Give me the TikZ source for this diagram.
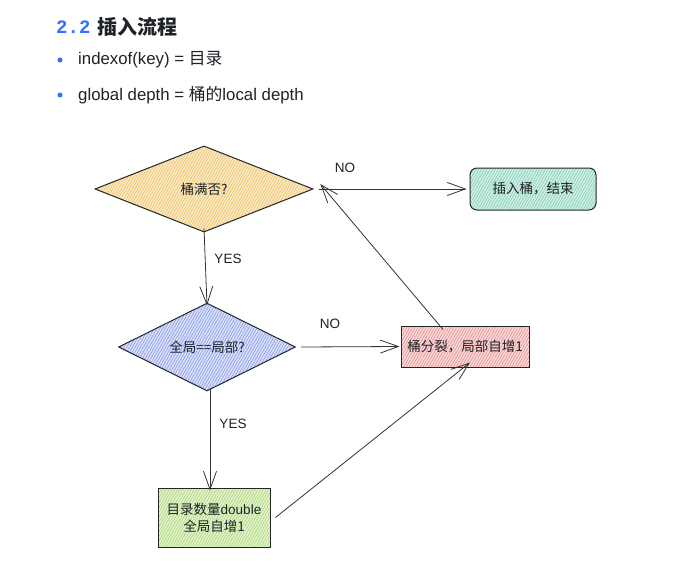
\documentclass[tikz,border=0pt]{standalone}
\usepackage{fontspec}
\setmainfont{Liberation Sans}
\newfontfamily\cjk{Noto Sans CJK SC}
\usetikzlibrary{shapes.geometric,arrows.meta,patterns.meta}
\definecolor{hblue}{HTML}{3370FF}
\definecolor{ylfill}{HTML}{FBEBC8}\definecolor{ylhatch}{HTML}{EDBE5C}
\definecolor{tlfill}{HTML}{D2F0E6}\definecolor{tlhatch}{HTML}{7CCDB4}
\definecolor{blfill}{HTML}{DCE2FA}\definecolor{blhatch}{HTML}{8494EC}
\definecolor{rdfill}{HTML}{FADADA}\definecolor{rdhatch}{HTML}{E48C8C}
\definecolor{grfill}{HTML}{E4F3CF}\definecolor{grhatch}{HTML}{A6D670}
\definecolor{txt}{HTML}{1F2329}
\tikzset{
  hatched/.style 2 args={preaction={fill=#1},pattern={Lines[angle=60,distance=2.4pt,line width=0.6pt]},pattern color=#2},
  shapebase/.style={draw=black!85,line width=1pt,inner sep=0pt,font=\cjk\fontsize{13.5}{16}\selectfont,text=txt,align=center},
  dia/.style={shapebase,diamond},
  boxn/.style={shapebase,rectangle},
  arr/.style={draw=black!80,line width=0.8pt,-{Straight Barb[length=18pt,width=13pt,line width=0.8pt]}},
  lab/.style={font=\fontsize{13.5}{15}\selectfont,text=txt,inner sep=0pt},
  bul/.style={fill=hblue,circle,inner sep=0pt,minimum size=5pt},
  btxt/.style={anchor=west,font=\fontsize{16.8}{20}\selectfont,text=txt,inner sep=0pt}
}
\begin{document}
\begin{tikzpicture}[x=1pt,y=-1pt]
\useasboundingbox[fill=white] (0,0) rectangle (680,562);
% heading
\node[anchor=west,inner sep=0pt,font=\fontspec{Liberation Mono}\bfseries\fontsize{19}{22}\selectfont,text=hblue] (hnum) at (56,27) {2.2};
\node[anchor=west,inner sep=0pt,font=\cjk\bfseries\fontsize{20}{22}\selectfont,text=txt] (htit) at (97,27) {插入流程};
% bullets
\node[bul] (b1) at (60,60) {};
\node[btxt] (t1) at (78,60) {indexof(key) = {\cjk 目录}};
\node[bul] (b2) at (60,95) {};
\node[btxt] (t2) at (78,95) {global depth = {\cjk 桶的}local depth};
% shapes
\node[dia,hatched={ylfill}{ylhatch},minimum width=218pt,minimum height=86pt] (d1) at (204,189) {桶满否?};
\node[boxn,hatched={tlfill}{tlhatch},rounded corners=7pt,minimum width=126pt,minimum height=42pt] (fin) at (533,189) {插入桶，结束};
\node[dia,hatched={blfill}{blhatch},minimum width=177pt,minimum height=79pt] (d2) at (207,347) {全局==局部?};
\node[boxn,hatched={rdfill}{rdhatch},minimum width=128pt,minimum height=41pt] (split) at (465,346.5) {桶分裂，局部自增1};
\node[boxn,hatched={grfill}{grhatch},minimum width=112pt,minimum height=59pt,font=\cjk\fontsize{13.5}{17}\selectfont] (dbl) at (214,517.5) {目录数量{\fontspec{Liberation Sans}double}\\全局自增1};
% connectors
\draw[arr] ([xshift=6pt]d1.east) -- ([xshift=-3pt]fin.west);
\draw[arr] ([xshift=-22pt,yshift=-4pt]split.north) -- ([xshift=7pt,yshift=5pt]d1.east);
\draw[arr] ([yshift=4pt]d1.south) -- ([yshift=-3pt]d2.north);
\draw[arr] ([xshift=5pt]d2.east) -- ([xshift=-1pt]split.west);
\draw[arr] ([xshift=3pt,yshift=3pt]d2.south) -- ([xshift=-4pt,yshift=-3pt]dbl.north);
\draw[arr] ([xshift=5pt]dbl.east) -- ([xshift=5pt,yshift=5pt]split.south);
% labels
\node[lab] (no1) at (345,168) {NO};
\node[lab] (no2) at (330,324) {NO};
\node[lab] (yes1) at (228,259) {YES};
\node[lab] (yes2) at (233,424) {YES};
\end{tikzpicture}
\end{document}
